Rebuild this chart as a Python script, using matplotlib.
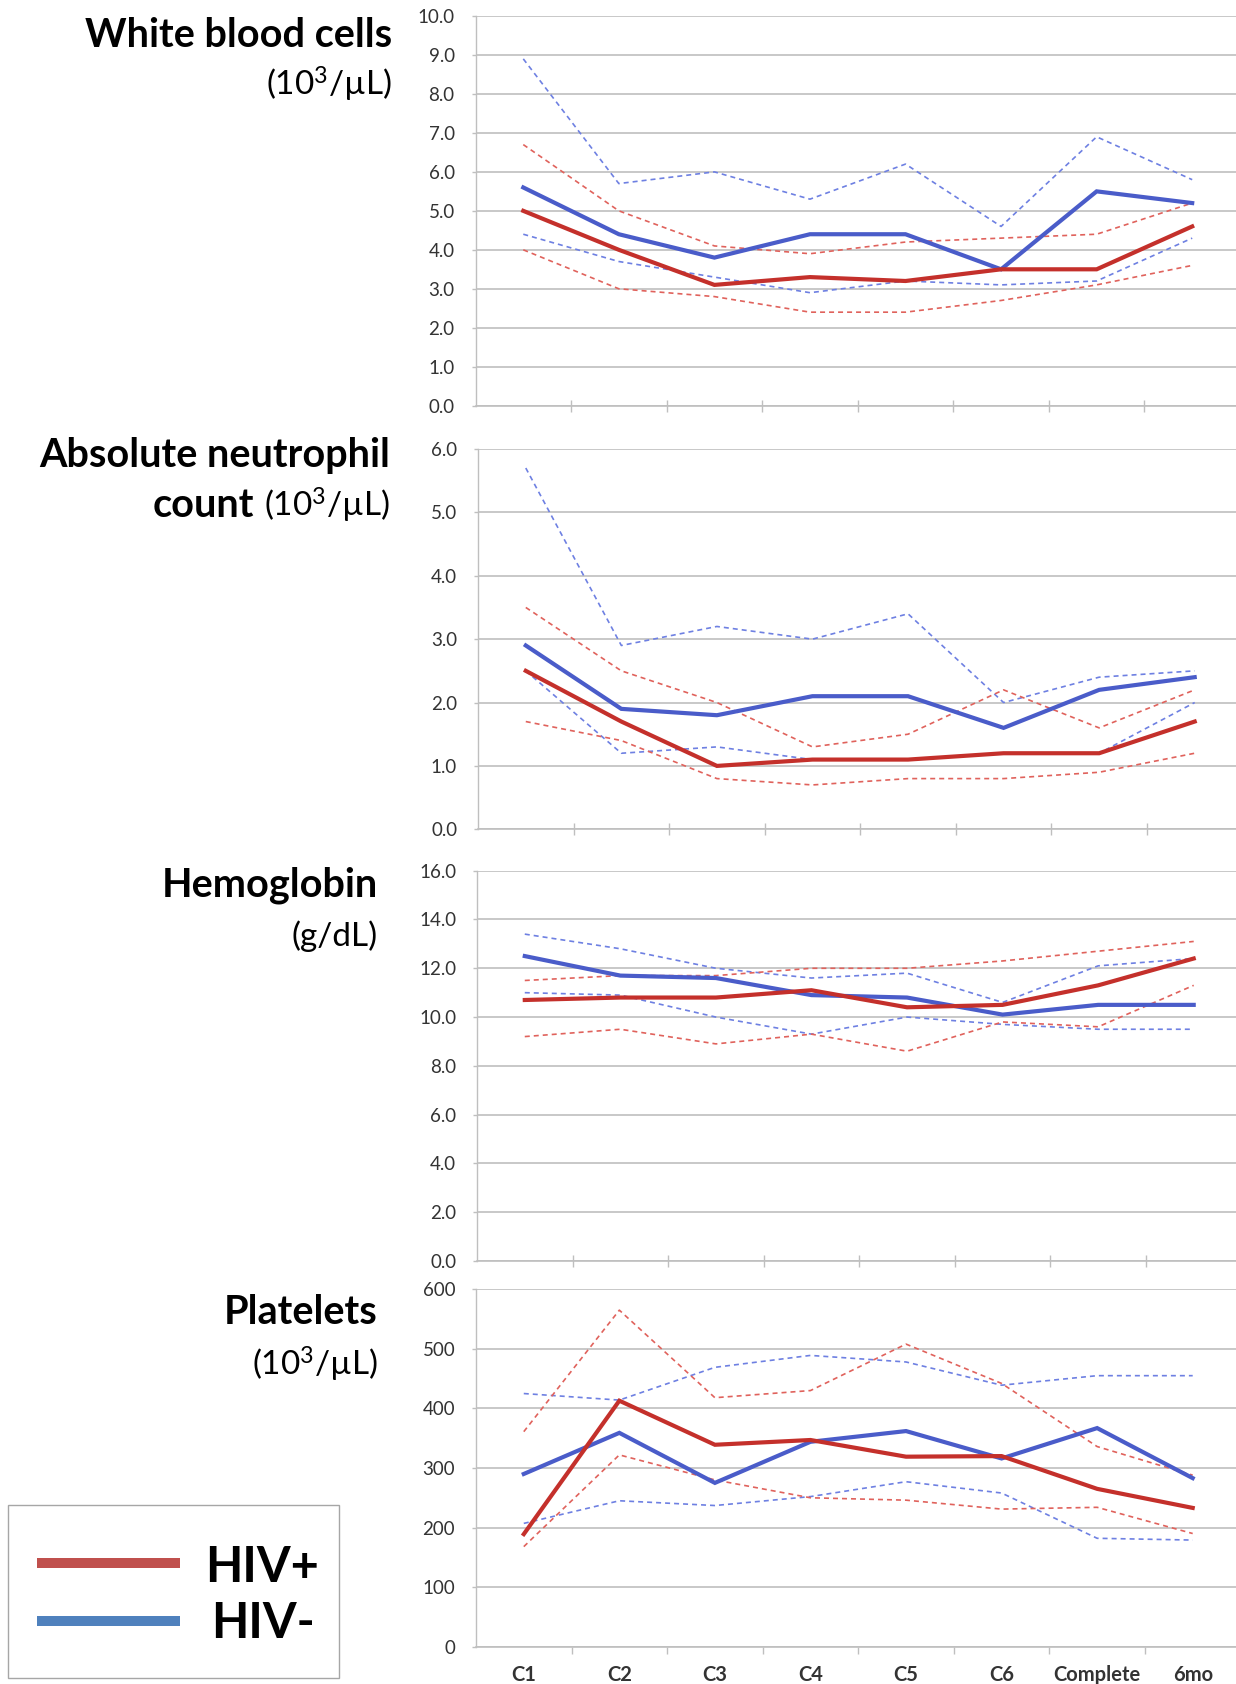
import matplotlib
matplotlib.use("Agg")
import matplotlib.pyplot as plt
from matplotlib.patches import Rectangle
from matplotlib.lines import Line2D

plt.rcParams['font.family'] = ['Lato', 'DejaVu Sans']
plt.rcParams['mathtext.fontset'] = 'custom'
plt.rcParams['mathtext.rm'] = 'Lato'
plt.rcParams['mathtext.it'] = 'Lato:italic'
plt.rcParams['mathtext.bf'] = 'Lato:bold'

categories = ["C1", "C2", "C3", "C4", "C5", "C6", "Complete", "6mo"]

# White blood cells (10^3/uL)
wbc_pos_mean = [5.0, 4.0, 3.1, 3.3, 3.2, 3.5, 3.5, 4.6]
wbc_pos_hi   = [6.7, 5.0, 4.1, 3.9, 4.2, 4.3, 4.4, 5.2]
wbc_pos_lo   = [4.0, 3.0, 2.8, 2.4, 2.4, 2.7, 3.1, 3.6]
wbc_neg_mean = [5.6, 4.4, 3.8, 4.4, 4.4, 3.5, 5.5, 5.2]
wbc_neg_hi   = [8.9, 5.7, 6.0, 5.3, 6.2, 4.6, 6.9, 5.8]
wbc_neg_lo   = [4.4, 3.7, 3.3, 2.9, 3.2, 3.1, 3.2, 4.3]

# Absolute neutrophil count (10^3/uL)
anc_pos_mean = [2.5, 1.7, 1.0, 1.1, 1.1, 1.2, 1.2, 1.7]
anc_pos_hi   = [3.5, 2.5, 2.0, 1.3, 1.5, 2.2, 1.6, 2.2]
anc_pos_lo   = [1.7, 1.4, 0.8, 0.7, 0.8, 0.8, 0.9, 1.2]
anc_neg_mean = [2.9, 1.9, 1.8, 2.1, 2.1, 1.6, 2.2, 2.4]
anc_neg_hi   = [5.7, 2.9, 3.2, 3.0, 3.4, 2.0, 2.4, 2.5]
anc_neg_lo   = [2.5, 1.2, 1.3, 1.1, 1.1, 1.2, 1.2, 2.0]

# Hemoglobin (g/dL)
hb_pos_mean = [10.7, 10.8, 10.8, 11.1, 10.4, 10.5, 11.3, 12.4]
hb_pos_hi   = [11.5, 11.7, 11.7, 12.0, 12.0, 12.3, 12.7, 13.1]
hb_pos_lo   = [9.2, 9.5, 8.9, 9.3, 8.6, 9.8, 9.6, 11.3]
hb_neg_mean = [12.5, 11.7, 11.6, 10.9, 10.8, 10.1, 10.5, 10.5]
hb_neg_hi   = [13.4, 12.8, 12.0, 11.6, 11.8, 10.6, 12.1, 12.4]
hb_neg_lo   = [11.0, 10.9, 10.0, 9.3, 10.0, 9.7, 9.5, 9.5]

# Platelets (10^3/uL)
plt_pos_mean = [189, 413, 339, 347, 319, 320, 265, 233]
plt_pos_hi   = [361, 565, 418, 430, 508, 442, 336, 288]
plt_pos_lo   = [168, 322, 280, 250, 246, 231, 234, 190]
plt_neg_mean = [290, 359, 275, 344, 362, 316, 367, 283]
plt_neg_hi   = [425, 414, 469, 489, 478, 439, 455, 455]
plt_neg_lo   = [207, 245, 237, 252, 277, 258, 182, 179]

panels = [
    dict(pos=(wbc_pos_mean, wbc_pos_hi, wbc_pos_lo), neg=(wbc_neg_mean, wbc_neg_hi, wbc_neg_lo),
         ymax=10.0, step=1.0, fmt="{:.1f}", top=16.0, bot=405.7, left=475.5),
    dict(pos=(anc_pos_mean, anc_pos_hi, anc_pos_lo), neg=(anc_neg_mean, anc_neg_hi, anc_neg_lo),
         ymax=6.0, step=1.0, fmt="{:.1f}", top=449.0, bot=829.3, left=478.0),
    dict(pos=(hb_pos_mean, hb_pos_hi, hb_pos_lo), neg=(hb_neg_mean, hb_neg_hi, hb_neg_lo),
         ymax=16.0, step=2.0, fmt="{:.1f}", top=870.7, bot=1261.0, left=477.0),
    dict(pos=(plt_pos_mean, plt_pos_hi, plt_pos_lo), neg=(plt_neg_mean, plt_neg_hi, plt_neg_lo),
         ymax=600, step=100, fmt="{:.0f}", top=1289.3, bot=1646.7, left=476.0),
]

W, H = 1236, 1684
fig = plt.figure(figsize=(W / 100, H / 100), dpi=100)

RED = "#C4302B"
BLUE = "#4A5CC9"
RED_D = "#E0625C"
BLUE_D = "#6E80E2"
GRID = "#BFBFBF"
TXT = "#333333"

x = list(range(len(categories)))
cat_w = 95.56
for i, p in enumerate(panels):
    left = p["left"] / W
    width = 8 * cat_w / W
    bottom = 1 - p["bot"] / H
    height = (p["bot"] - p["top"]) / H
    ax = fig.add_axes([left, bottom, width, height])
    ax.set_xlim(-0.5, 7.5)
    ax.set_ylim(0, p["ymax"])
    n = int(round(p["ymax"] / p["step"]))
    yt = [k * p["step"] for k in range(n + 1)]
    ax.set_yticks(yt)
    ax.set_yticklabels([p["fmt"].format(v) for v in yt], fontsize=13.5, color=TXT)
    ax.grid(axis="y", color=GRID, linewidth=1.2, zorder=0)
    ax.set_axisbelow(True)
    for s in ["top", "right"]:
        ax.spines[s].set_visible(False)
    ax.spines["left"].set_color(GRID)
    ax.spines["left"].set_linewidth(1.0)
    ax.spines["bottom"].set_color(GRID)
    ax.spines["bottom"].set_linewidth(1.2)
    ax.tick_params(axis="y", direction="out", length=3, width=1.0, color=GRID, pad=12)
    # boundary ticks
    ax.set_xticks([k + 0.5 for k in range(7)])
    ax.set_xticklabels([])
    ax.set_xticks(x, minor=True)
    if i == 3:
        ax.tick_params(axis="x", which="major", direction="out", length=5, width=1.0, color=GRID)
        ax.set_xticklabels(categories, minor=True, fontsize=14.5, fontweight="bold", color=TXT)
        ax.tick_params(axis="x", which="minor", length=0, pad=13)
    else:
        ax.tick_params(axis="x", which="major", direction="inout", length=8, width=1.0, color=GRID)
        ax.tick_params(axis="x", which="minor", length=0, labelbottom=False)

    dash = dict(linewidth=1.2, dashes=(3, 2.4))
    m, hi, lo = p["neg"]
    ax.plot(x, hi, color=BLUE_D, zorder=2, **dash)
    ax.plot(x, lo, color=BLUE_D, zorder=2, **dash)
    m2, hi2, lo2 = p["pos"]
    ax.plot(x, hi2, color=RED_D, zorder=2, **dash)
    ax.plot(x, lo2, color=RED_D, zorder=2, **dash)
    ax.plot(x, m, color=BLUE, linewidth=3.0, zorder=3, solid_joinstyle="miter")
    ax.plot(x, m2, color=RED, linewidth=3.0, zorder=4, solid_joinstyle="miter")


def fx(px):
    return px / W


def fy(py):
    return 1 - py / H


TS = 28.5
US = 24
UNIT = r"(10$\mathregular{^3}$/µL)"
fig.text(fx(392), fy(46.7), "White blood cells", fontsize=TS, fontweight="bold",
         ha="right", va="baseline")
fig.text(fx(392), fy(95.5), UNIT, fontsize=US, ha="right", va="baseline")

fig.text(fx(390), fy(466.7), "Absolute neutrophil", fontsize=TS, fontweight="bold",
         ha="right", va="baseline")
unit2 = fig.text(fx(390), fy(516.7), UNIT, fontsize=US, ha="right", va="baseline")
fig.canvas.draw()
bb = unit2.get_window_extent(renderer=fig.canvas.get_renderer())
fig.text(fx(bb.x0 - 10), fy(516.7), "count", fontsize=TS, fontweight="bold",
         ha="right", va="baseline")

fig.text(fx(378), fy(896.7), "Hemoglobin", fontsize=TS, fontweight="bold",
         ha="right", va="baseline")
fig.text(fx(378), fy(946.4), "(g/dL)", fontsize=US, ha="right", va="baseline")

fig.text(fx(378), fy(1323.8), "Platelets", fontsize=TS, fontweight="bold",
         ha="right", va="baseline")
fig.text(fx(378), fy(1376), UNIT, fontsize=US, ha="right", va="baseline")

# Legend box
fig.patches.append(Rectangle((fx(7.5), fy(1678)), fx(339) - fx(7.5), fy(1505) - fy(1678),
                             transform=fig.transFigure, facecolor="white",
                             edgecolor="#A6A6A6", linewidth=1.0))
fig.lines.append(Line2D([fx(37), fx(180)], [fy(1563), fy(1563)], transform=fig.transFigure,
                        color="#C0504D", linewidth=7.2, solid_capstyle="butt"))
fig.lines.append(Line2D([fx(37), fx(180)], [fy(1620.5), fy(1620.5)], transform=fig.transFigure,
                        color="#4F81BD", linewidth=7.2, solid_capstyle="butt"))
fig.text(fx(262), fy(1581.7), "HIV+", fontsize=35, fontweight="bold", ha="center", va="baseline")
fig.text(fx(263), fy(1638), "HIV-", fontsize=35, fontweight="bold", ha="center", va="baseline")

fig.savefig("out.png", dpi=100, facecolor="white")
